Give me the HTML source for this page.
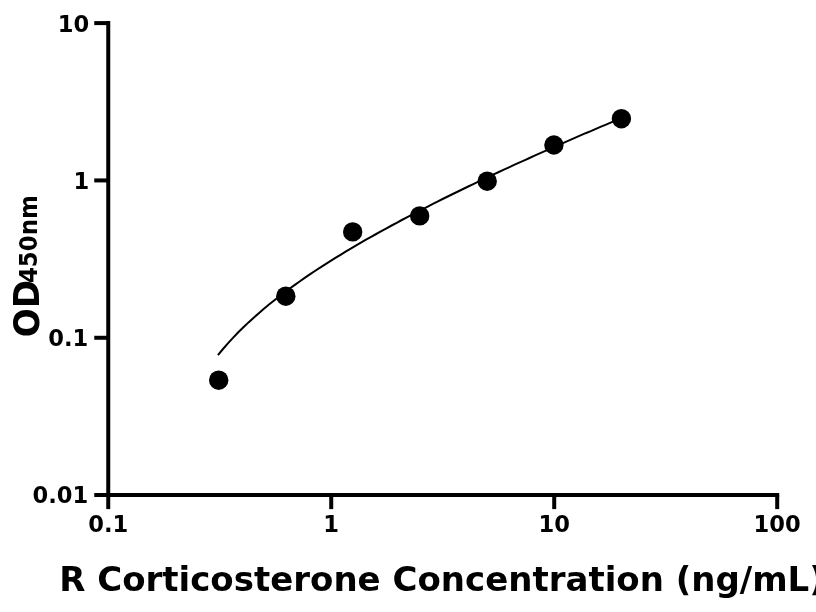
<!DOCTYPE html>
<html><head><meta charset="utf-8"><title>Standard curve</title>
<style>
html,body{margin:0;padding:0;background:#fff;overflow:hidden}
svg{display:block}
text{font-family:"DejaVu Sans","Liberation Sans",sans-serif;font-weight:bold;fill:#000}
.ax path{stroke:#000;stroke-width:4;fill:none;stroke-linecap:butt}
.tk text{font-size:22.6px}
</style></head><body>
<svg width="816" height="612" viewBox="0 0 816 612">
<rect width="816" height="612" fill="#fff"/>
<g class="ax">
<path d="M108.25 21.1 V495.1 M94.25 495.1 H779.2" />
<path d="M94.25 23.10 H108.25" />
<path d="M108.25 495.1 V509.1" />
<path d="M94.25 180.43 H108.25" />
<path d="M331.23 495.1 V509.1" />
<path d="M94.25 337.77 H108.25" />
<path d="M554.22 495.1 V509.1" />
<path d="M777.20 495.1 V509.1" />
</g>
<g class="tk">
<text x="89.15" y="31.8" text-anchor="end">10</text>
<text x="89.15" y="189.0" text-anchor="end">1</text>
<text x="88.3" y="346.4" text-anchor="end">0.1</text>
<text x="88.3" y="503.45" text-anchor="end">0.01</text>
<text x="108.2" y="532.2" text-anchor="middle">0.1</text>
<text x="331.2" y="532.2" text-anchor="middle">1</text>
<text x="554.2" y="532.2" text-anchor="middle">10</text>
<text x="777.2" y="532.2" text-anchor="middle">100</text>
</g>
<path d="M217.9 355.2 L223.0 349.0 L228.1 343.2 L233.2 337.6 L238.3 332.3 L243.4 327.3 L248.5 322.4 L253.7 317.7 L258.8 313.2 L263.9 308.8 L269.0 304.6 L274.1 300.5 L279.2 296.5 L284.3 292.6 L289.4 288.8 L294.5 285.1 L299.6 281.5 L304.7 277.9 L309.8 274.4 L314.9 271.0 L320.1 267.7 L325.2 264.4 L330.3 261.1 L335.4 257.9 L340.5 254.8 L345.6 251.7 L350.7 248.7 L355.8 245.6 L360.9 242.7 L366.0 239.7 L371.1 236.8 L376.2 234.0 L381.3 231.1 L386.5 228.3 L391.6 225.5 L396.7 222.8 L401.8 220.0 L406.9 217.3 L412.0 214.7 L417.1 212.0 L422.2 209.4 L427.3 206.8 L432.4 204.2 L437.5 201.6 L442.6 199.0 L447.7 196.5 L452.8 194.0 L458.0 191.5 L463.1 189.0 L468.2 186.5 L473.3 184.1 L478.4 181.6 L483.5 179.2 L488.6 176.8 L493.7 174.4 L498.8 172.0 L503.9 169.6 L509.0 167.3 L514.1 164.9 L519.2 162.6 L524.4 160.3 L529.5 158.0 L534.6 155.7 L539.7 153.4 L544.8 151.1 L549.9 148.8 L555.0 146.6 L560.1 144.3 L565.2 142.1 L570.3 139.9 L575.4 137.6 L580.5 135.4 L585.6 133.2 L590.8 131.1 L595.9 128.9 L601.0 126.7 L606.1 124.6 L611.2 122.4 L616.3 120.3 L621.4 118.2" fill="none" stroke="#000" stroke-width="2" stroke-linecap="butt"/>
<g fill="#000">
<circle cx="218.7" cy="380.2" r="9.7"/>
<circle cx="285.8" cy="296.2" r="9.7"/>
<circle cx="352.7" cy="231.9" r="9.7"/>
<circle cx="419.7" cy="215.9" r="9.7"/>
<circle cx="487.2" cy="181.2" r="9.7"/>
<circle cx="553.9" cy="145.0" r="9.7"/>
<circle cx="621.4" cy="118.7" r="9.7"/>
</g>
<text x="59.2" y="590.7" font-size="34">R Corticosterone Concentration (ng/mL)</text>
<text transform="translate(39.3 337.2) rotate(-90) scale(1 1.03)" font-size="34.2">OD</text>
<text transform="translate(37 283.1) rotate(-90) scale(1 1.05)" font-size="22.9">450nm</text>
</svg>
</body></html>
